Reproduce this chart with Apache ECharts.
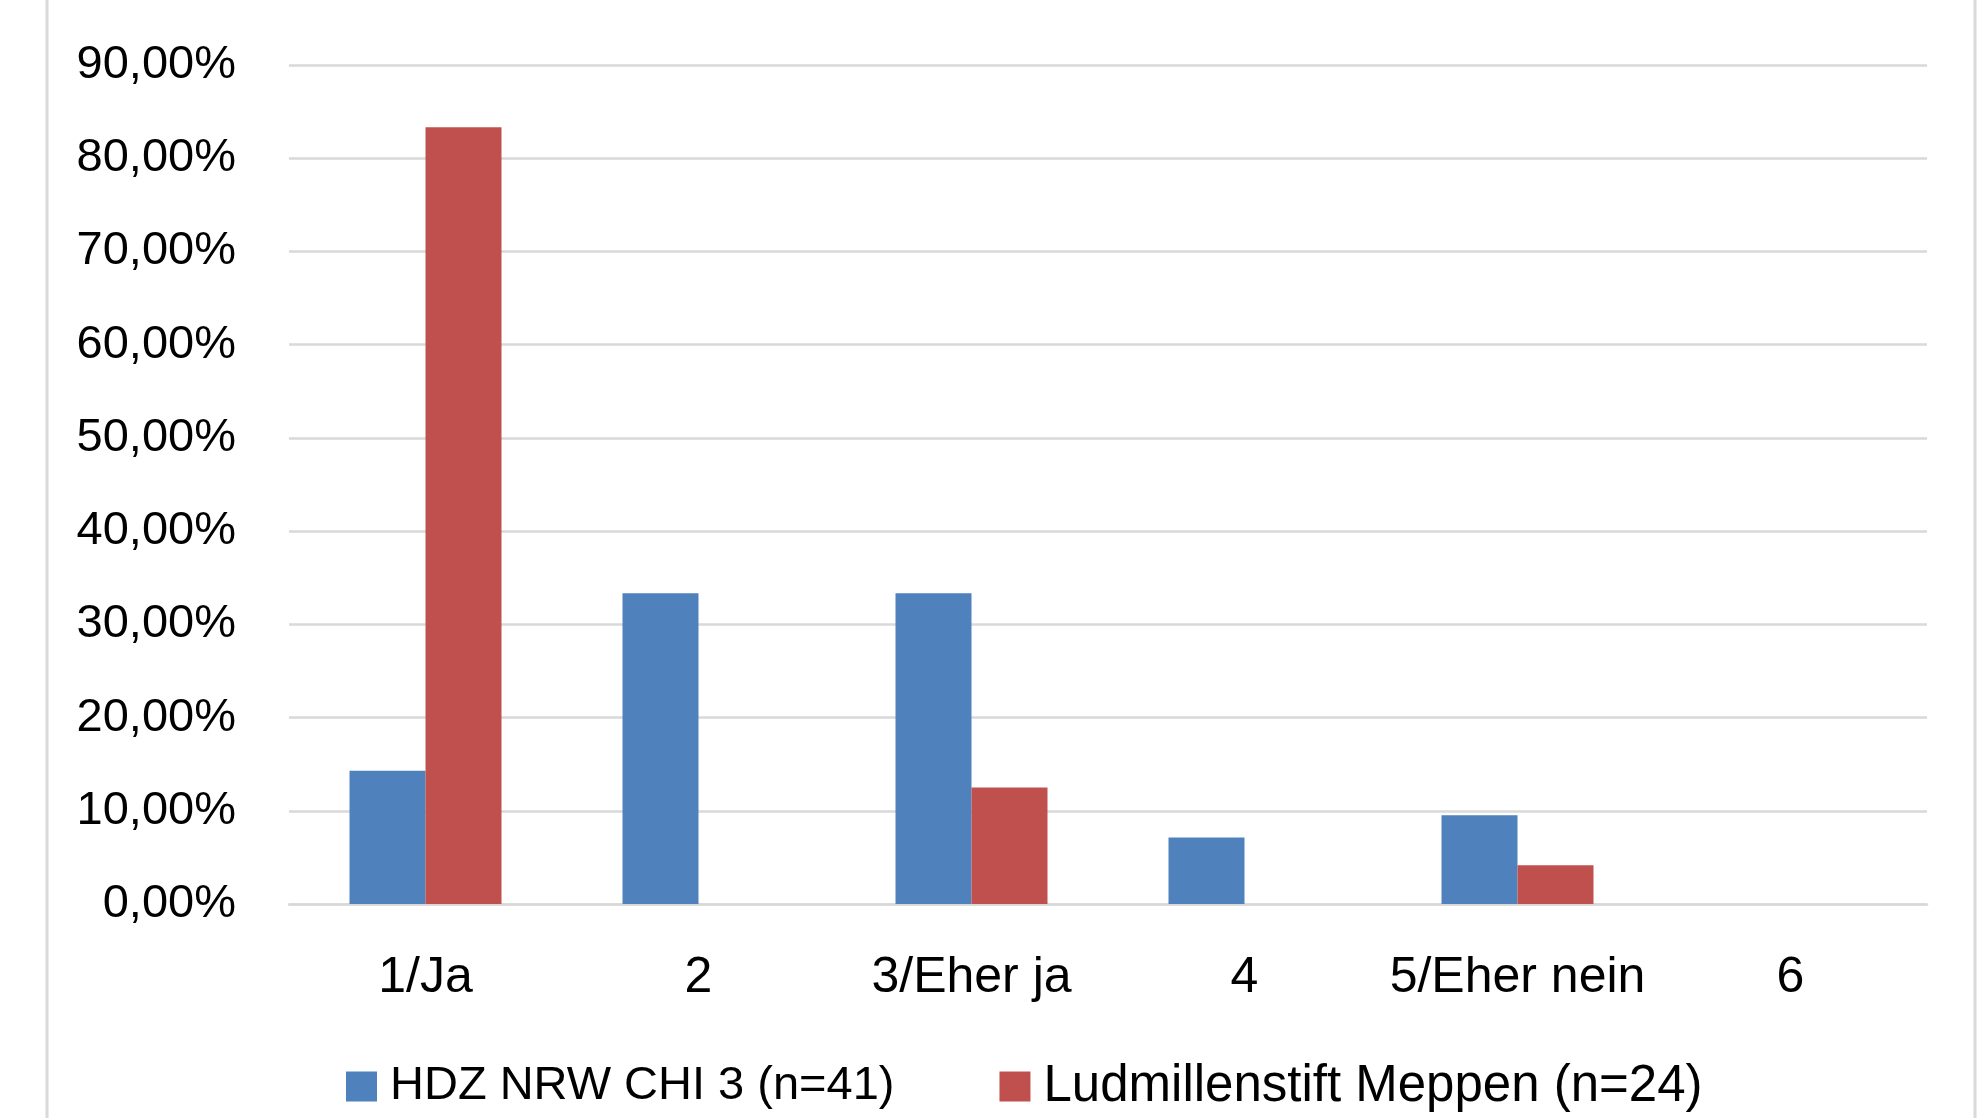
<!DOCTYPE html>
<html>
<head>
<meta charset="utf-8">
<script src="https://cdn.jsdelivr.net/npm/echarts@6/dist/echarts.min.js"></script>
<style>
html,body{margin:0;padding:0;background:#fff;}
#chart{width:1981px;height:1118px;}
</style>
</head>
<body>
<div id="chart"></div>
<script>
var categories = ['1/Ja', '2', '3/Eher ja', '4', '5/Eher nein', '6'];
var hdzValues = [14.29, 33.33, 33.33, 7.14, 9.52, 0];
var ludValues = [83.33, 0, 12.5, 0, 4.17, 0];
var seriesNames = ['HDZ NRW CHI 3 (n=41)', 'Ludmillenstift Meppen (n=24)'];
var yMin = 0, yMax = 90, yStep = 10;

var FONT = '"Liberation Sans", Arial, sans-serif';
var chart = echarts.init(document.getElementById('chart'), null, {renderer: 'canvas'});
chart.setOption({
  animation: false,
  backgroundColor: '#ffffff',
  color: ['#4F81BD', '#C0504D'],
  textStyle: {fontFamily: FONT},
  graphic: [
    {type: 'line', shape: {x1: 47, y1: 0, x2: 47, y2: 1118}, style: {stroke: '#D9D9D9', lineWidth: 3}, silent: true},
    {type: 'line', shape: {x1: 1975, y1: 0, x2: 1975, y2: 1118}, style: {stroke: '#D9D9D9', lineWidth: 3}, silent: true}
  ],
  grid: {left: 289, right: 54, top: 65, bottom: 214, containLabel: false},
  legend: {
    data: [
      {name: seriesNames[0], textStyle: {fontSize: 47}},
      {name: seriesNames[1], textStyle: {fontSize: 51}}
    ],
    left: 341, top: 1056,
    itemWidth: 31, itemHeight: 30, itemGap: 105,
    icon: 'rect',
    textStyle: {fontSize: 47, color: '#000', fontFamily: FONT, padding: [0,0,0,8]}
  },
  xAxis: {
    type: 'category',
    data: categories,
    axisLine: {show: true, lineStyle: {color: '#D9D9D9', width: 2.5}},
    axisTick: {show: false},
    axisLabel: {fontSize: 50, color: '#000', margin: 49, fontFamily: FONT, interval: 0}
  },
  yAxis: {
    type: 'value',
    min: yMin, max: yMax, interval: yStep,
    axisLine: {show: false},
    axisTick: {show: false},
    splitLine: {lineStyle: {color: '#D9D9D9', width: 2.5}},
    axisLabel: {
      fontSize: 47, color: '#000', margin: 53, fontFamily: FONT, padding: [6, 0, 0, 0],
      formatter: function (v) { return v.toFixed(2).replace('.', ',') + '%'; }
    }
  },
  series: [
    {name: seriesNames[0], type: 'bar', data: hdzValues, barWidth: 76, barGap: '0%',
     itemStyle: {color: '#4F81BD'}},
    {name: seriesNames[1], type: 'bar', data: ludValues, barWidth: 76, barGap: '0%',
     itemStyle: {color: '#C0504D'}}
  ]
});
</script>
</body>
</html>
